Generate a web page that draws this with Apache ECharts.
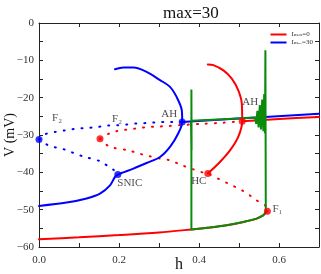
<!DOCTYPE html>
<html>
<head>
<meta charset="utf-8">
<script src="https://cdn.jsdelivr.net/npm/echarts@6/dist/echarts.min.js"></script>
<style>
  html, body { margin: 0; padding: 0; background: #fff; }
  #chart { width: 321px; height: 274px; }
</style>
</head>
<body>
<div id="chart"></div>
<script>
const titleText = 'max=30';
const legendNames = ['Iₘᵢₙ=0', 'Iₘₐₓ=30'];

// red (Imin=0) branches, [h, V]
const redLowStable = [[0,-57.9],[0.1,-57.4],[0.2,-56.8],[0.3,-56.1],[0.381,-55.3],[0.4275,-54.8],[0.469,-54.2],[0.511,-53.3],[0.544,-52.4],[0.561,-51.5],[0.571,-50.4]];
const redUpStable = [[0.508,-26.3],[0.6,-25.7],[0.7,-25.2]];
const redUnstableUp = [[0.1525,-31],[0.1775,-29.5],[0.198,-28.9],[0.223,-28.5],[0.248,-28.2],[0.269,-27.9],[0.294,-27.75],[0.323,-27.6],[0.36,-27.3],[0.41,-27.0],[0.46,-26.7],[0.508,-26.3]];
const redUnstableLow = [[0.1525,-31],[0.161,-31.9],[0.1775,-33.2],[0.223,-34.1],[0.248,-34.9],[0.2725,-35.6],[0.3025,-36.3],[0.3275,-36.8],[0.357,-38.1],[0.386,-39.2],[0.411,-40.1],[0.422,-40.3],[0.448,-41.7],[0.469,-42.8],[0.507,-44.8],[0.5275,-46.2],[0.544,-47.5],[0.565,-48.8],[0.571,-50.4]];
const redCycle = [[0.422,-40.3],[0.448,-37.7],[0.4775,-34.1],[0.498,-30.5],[0.508,-26.3],[0.507,-21.6],[0.498,-18.0],[0.482,-14.9],[0.461,-12.7],[0.436,-11.3],[0.422,-11.1]];

// blue (Imax=30) branches
const blueStable = [[0,-49.0],[0.069,-48.1],[0.119,-47.0],[0.1525,-45.7],[0.1775,-43.5],[0.19,-41.2],[0.197,-40.6],[0.236,-39.0],[0.269,-37.5],[0.3025,-35.9],[0.3275,-33.2],[0.348,-29.6],[0.358,-26.5],[0.357,-23.4],[0.344,-19.8],[0.3275,-17.1],[0.3025,-15.3],[0.269,-13.1],[0.236,-11.95],[0.211,-11.95],[0.19,-12.4]];
const blueUpStable = [[0.358,-26.5],[0.5,-25.6],[0.7,-24.3]];
const blueUnstableUp = [[0,-31.2],[0.015,-29.8],[0.04,-29.2],[0.069,-28.7],[0.094,-28.3],[0.119,-28.1],[0.144,-27.9],[0.169,-27.5],[0.194,-27.4],[0.219,-27.2],[0.244,-26.9],[0.269,-26.8],[0.294,-26.6],[0.32,-26.5],[0.358,-26.5]];
const blueUnstableLow = [[0,-31.2],[0.007,-31.4],[0.023,-32.8],[0.044,-33.4],[0.065,-33.9],[0.086,-34.8],[0.115,-35.9],[0.1525,-37.0],[0.169,-38.1],[0.186,-39.3],[0.197,-40.6]];

// green trajectory
const greenPath = [[0.381,-55.3],[0.4275,-54.8],[0.469,-54.2],[0.511,-53.3],[0.544,-52.4],[0.561,-51.5],[0.567,-50.6],
  [0.566,-7.3],[0.565,-29.5],[0.563,-19],[0.561,-29],[0.558,-20.5],[0.555,-28.5],[0.552,-22],[0.549,-28],[0.546,-23.5],[0.543,-27],[0.54,-25.3],
  [0.46,-25.8],[0.381,-26.2],[0.381,-17.8],[0.3815,-34],[0.380,-26.5],[0.381,-34],[0.381,-55.3]];

// bifurcation points
const bluePoints = [[0,-31.2],[0.197,-40.6],[0.358,-26.5]];
const bluePointLabels = ['F₂','SNIC','AH'];
const redPoints = [[0.1525,-31],[0.508,-26.3],[0.422,-40.3],[0.571,-50.4]];
const redPointLabels = ['F₂','AH','HC','F₁'];

const xTickLabels = ['0.0','0.2','0.4','0.6'];

const RED = '#ff0000', BLUE = '#0000ff', GREEN = '#0a8c0a';
const SERIF = '"Liberation Serif", "DejaVu Serif", serif';
const blueOffsets = [[18,-21],[12,9],[-13,-8]];
const redOffsets = [[17,-20],[8,-19],[-9,8],[10,-2]];

function lineSeries(name, data, color, dotted, z){
  return {
    name: name, type: 'line', data: data, symbol: 'none', showSymbol: false, smooth: 0.3,
    lineStyle: { color: color, width: 2, type: dotted ? [1, 8] : 'solid', cap: 'round' },
    itemStyle: { color: color }, z: z || 2, silent: true
  };
}

function pointSeries(data, labels, offsets, color){
  return {
    type: 'scatter', symbolSize: 7, z: 5, silent: true,
    itemStyle: { color: color },
    data: data.map((d, i) => ({
      value: d,
      label: { show: true, formatter: labels[i], position: 'inside', offset: offsets[i],
        color: '#222', fontSize: 11, fontFamily: SERIF }
    }))
  };
}

function axisCommon(){
  return {
    axisLine: { show: true, onZero: false, lineStyle: { color: '#222', width: 1 } },
    axisTick: { show: true, inside: true, length: 4, lineStyle: { color: '#222' } },
    splitLine: { show: false }
  };
}

const chart = echarts.init(document.getElementById('chart'), null, { renderer: 'canvas' });

chart.setOption({
  animation: false,
  backgroundColor: '#fff',
  title: {
    text: titleText, left: 158, top: 0,
    textStyle: { fontFamily: SERIF, fontSize: 17, fontWeight: 'normal', color: '#111' }
  },
  legend: {
    data: legendNames, orient: 'vertical', right: 3, top: 26,
    icon: 'rect', itemWidth: 16, itemHeight: 2, itemGap: 1,
    textStyle: { fontSize: 7, fontFamily: SERIF, color: '#333' }
  },
  grid: { left: 39, right: 2, top: 23, bottom: 27, containLabel: false, outerBoundsMode: 'none' },
  xAxis: [
    Object.assign(axisCommon(), {
      type: 'value', min: 0, max: 0.7, interval: 0.1, position: 'bottom',
      name: 'h', nameLocation: 'middle', nameGap: 10, nameMoveOverlap: false,
      nameTextStyle: { fontFamily: SERIF, fontSize: 16, color: '#111' },
      axisLabel: { fontFamily: SERIF, fontSize: 11, color: '#333', margin: 8,
        formatter: v => { const s = v.toFixed(1); return xTickLabels.includes(s) ? s : ''; } }
    }),
    Object.assign(axisCommon(), {
      type: 'value', min: 0, max: 0.7, interval: 0.1, position: 'top', axisLabel: { show: false }
    })
  ],
  yAxis: [
    Object.assign(axisCommon(), {
      type: 'value', min: -60, max: 0, interval: 5, position: 'left',
      name: 'V (mV)', nameLocation: 'middle', nameGap: 22, nameRotate: 90, nameMoveOverlap: false,
      nameTextStyle: { fontFamily: SERIF, fontSize: 14, color: '#111' },
      axisLabel: { fontFamily: SERIF, fontSize: 11, color: '#333', margin: 5,
        formatter: v => (v % 10 === 0 ? (v < 0 ? '\u2212' + (-v) : String(v)) : '') }
    }),
    Object.assign(axisCommon(), {
      type: 'value', min: -60, max: 0, interval: 5, position: 'right', axisLabel: { show: false }
    })
  ],
  series: [
    lineSeries(legendNames[0], redLowStable, RED, false),
    lineSeries('redUp', redUpStable, RED, false),
    lineSeries('redCycle', redCycle, RED, false),
    lineSeries('redUnUp', redUnstableUp, RED, true),
    lineSeries('redUnLow', redUnstableLow, RED, true),
    lineSeries(legendNames[1], blueStable, BLUE, false),
    lineSeries('blueUp', blueUpStable, BLUE, false),
    lineSeries('blueUnUp', blueUnstableUp, BLUE, true),
    lineSeries('blueUnLow', blueUnstableLow, BLUE, true),
    Object.assign(lineSeries('green', greenPath, GREEN, false, 3), { smooth: false }),
    pointSeries(bluePoints, bluePointLabels, blueOffsets, BLUE),
    pointSeries(redPoints, redPointLabels, redOffsets, RED)
  ]
});
window.addEventListener('resize', () => chart.resize());
</script>
</body>
</html>
